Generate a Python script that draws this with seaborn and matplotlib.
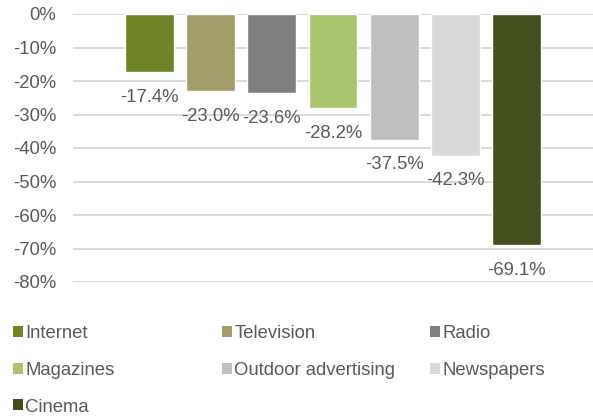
import matplotlib
matplotlib.use("Agg")
import matplotlib.pyplot as plt
from matplotlib.patches import Patch
import seaborn as sns
import pandas as pd

media = ["Internet", "Television", "Radio", "Magazines",
         "Outdoor advertising", "Newspapers", "Cinema"]
change = [-17.4, -23.0, -23.6, -28.2, -37.5, -42.3, -69.1]
colors = ["#6E8228", "#A39C69", "#7F7F7F", "#A9C46D",
          "#BFBFBF", "#D9D9D9", "#434F1A"]
yticks = [0, -10, -20, -30, -40, -50, -60, -70, -80]

sns.set_theme(style="white")
plt.rcParams["font.family"] = ["Liberation Sans", "DejaVu Sans"]

text_color = "#595959"
fs = 13.3

df = pd.DataFrame({"media": media, "change": change})

fig = plt.figure(figsize=(5.93, 4.16), dpi=100)
ax = fig.add_axes([73 / 593, 1 - 282 / 416, 1 - 73 / 593, (282 - 14) / 416])

sns.barplot(data=df, x="media", y="change", hue="media", order=media,
            hue_order=media, palette=dict(zip(media, colors)), dodge=False,
            width=0.8, legend=False, saturation=1, ax=ax, zorder=3)

for c in ax.containers:
    ax.bar_label(c, fmt="{:.1f}%", padding=12, fontsize=fs, color=text_color)

ax.set_ylim(-80, 0)
ax.set_xlim(-1.254, 7.254)
ax.set_yticks(yticks)
ax.set_yticklabels([f"{v}%" for v in yticks], fontsize=fs, color=text_color)
ax.tick_params(axis="y", length=0, pad=12)
ax.set_xticks([])
ax.set_xlabel("")
ax.set_ylabel("")
for s in ax.spines.values():
    s.set_visible(False)
ax.yaxis.grid(True, color="#D9D9D9", linewidth=1.4, zorder=0)
ax.set_axisbelow(True)
for t in ax.texts:
    t.set_clip_on(False)

# Legend laid out as three equal-width columns
columns = [[0, 3, 6], [1, 4], [2, 5]]
col_x = [13, 222, 430]
for xpos, idxs in zip(col_x, columns):
    handles = [Patch(facecolor=colors[i], edgecolor="none", label=media[i])
               for i in idxs]
    leg = fig.legend(handles=handles, loc="upper left",
                     bbox_to_anchor=(xpos / 593, 1 - 325 / 416),
                     frameon=False, fontsize=fs, handlelength=0.54,
                     handleheight=0.54, handletextpad=0.12,
                     labelspacing=1.07, borderpad=0, borderaxespad=0)
    for t in leg.get_texts():
        t.set_color(text_color)

fig.savefig("out.png", dpi=100)
